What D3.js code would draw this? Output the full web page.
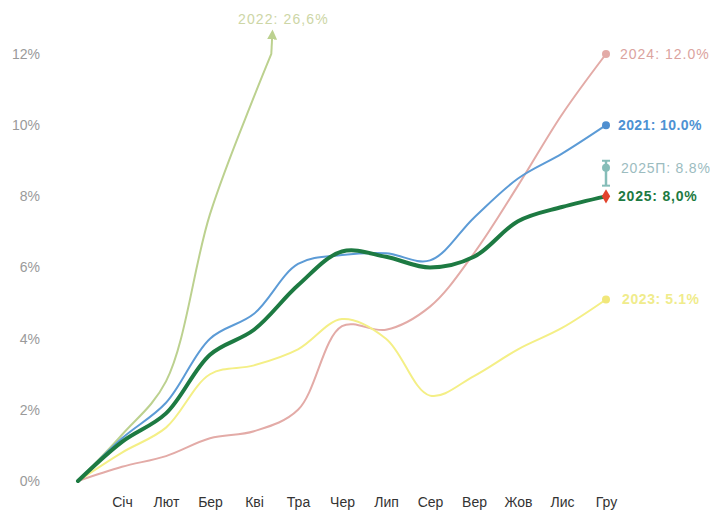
<!DOCTYPE html>
<html>
<head>
<meta charset="utf-8">
<script src="https://cdn.jsdelivr.net/npm/d3@7"></script>
<style>
  html, body { margin: 0; padding: 0; background: #fff; }
  svg { display: block; font-family: "Liberation Sans", Arial, sans-serif; }
</style>
</head>
<body>
<svg id="chart" width="710" height="511"></svg>
<script>
// Cumulative price growth since the start of the year, % (index 0 = start point)
const months = ["", "Січ", "Лют", "Бер", "Кві", "Тра", "Чер", "Лип", "Сер", "Вер", "Жов", "Лис", "Гру"];
const yTicks = [0, 2, 4, 6, 8, 10, 12];

const y2021 = [0, 1.2, 2.2, 4.0, 4.7, 6.1, 6.35, 6.4, 6.2, 7.4, 8.5, 9.2, 10.0];
const y2022 = [0, 1.3, 2.8, 7.5, 10.8, 13.8];          // continues off the scale
const y2022End = 26.6;
const y2023 = [0, 0.8, 1.5, 3.0, 3.25, 3.7, 4.55, 4.0, 2.4, 2.95, 3.7, 4.3, 5.1];
const y2024 = [0, 0.4, 0.7, 1.2, 1.4, 2.0, 4.35, 4.25, 4.9, 6.4, 8.3, 10.3, 12.0];
const y2025 = [0, 1.1, 1.9, 3.55, 4.25, 5.5, 6.45, 6.3, 6.0, 6.3, 7.3, 7.7, 8.0];
const forecast2025 = { value: 8.8, low: 8.3, high: 9.0 };

const svg = d3.select("#chart");
const x = d3.scalePoint().domain(d3.range(months.length)).range([78, 606]);
const y = d3.scaleLinear().domain([0, 12]).range([481, 54]);

// Y axis labels
svg.append("g").attr("transform", "translate(40,0)")
  .call(d3.axisLeft(y).tickValues(yTicks).tickFormat(d => d + "%").tickSize(0).tickPadding(0))
  .call(g => g.select(".domain").remove())
  .call(g => g.selectAll("text").attr("fill", "#9a9a9a").attr("font-size", 14));

// X axis labels
svg.append("g").attr("transform", "translate(0,497)")
  .call(d3.axisBottom(x).tickValues(d3.range(1, 13)).tickFormat(i => months[i]).tickSize(0).tickPadding(0))
  .call(g => g.select(".domain").remove())
  .call(g => g.selectAll("text").attr("fill", "#333").attr("font-size", 14).attr("dy", "0.71em"));

const line = d3.line()
  .x((d, i) => x(i))
  .y(d => y(d))
  .curve(d3.curveCatmullRom.alpha(0.5));

// clip for the line that leaves the scale
svg.append("clipPath").attr("id", "clip")
  .append("rect").attr("x", 0).attr("y", y(12)).attr("width", 710).attr("height", 511);

// 2022
const p22 = svg.append("path").datum(y2022)
  .attr("d", line).attr("fill", "none")
  .attr("stroke", "#bcd18f").attr("stroke-width", 2)
  .attr("clip-path", "url(#clip)");

// find where the 2022 curve leaves the top of the scale
const node = p22.node();
const total = node.getTotalLength();
let lo = 0, hi = total;
for (let k = 0; k < 40; k++) {
  const mid = (lo + hi) / 2;
  if (node.getPointAtLength(mid).y > y(12)) lo = mid; else hi = mid;
}
const exitPt = node.getPointAtLength(lo);

const defs = svg.append("defs");
defs.append("marker").attr("id", "arrow22")
  .attr("viewBox", "0 0 10 10").attr("refX", 5).attr("refY", 5)
  .attr("markerWidth", 5).attr("markerHeight", 5).attr("orient", "auto")
  .append("path").attr("d", "M0,0 L10,5 L0,10 Z").attr("fill", "#bcd18f");
svg.append("line")
  .attr("x1", exitPt.x).attr("y1", exitPt.y)
  .attr("x2", exitPt.x + 1).attr("y2", y(12.55))
  .attr("stroke", "#bcd18f").attr("stroke-width", 2)
  .attr("marker-end", "url(#arrow22)");
svg.append("text").attr("x", 238).attr("y", 24)
  .attr("fill", "#cdd6a6").attr("font-size", 14).attr("letter-spacing", 1.1)
  .text(`2022: ${String(y2022End).replace(".", ",")}%`);

const series = [
  { data: y2024, color: "#e3aba7", width: 2 },
  { data: y2023, color: "#f4ef86", width: 2 },
  { data: y2021, color: "#5c9bd6", width: 2 },
  { data: y2025, color: "#1d7a42", width: 4 }
];
series.forEach(s => {
  svg.append("path").datum(s.data)
    .attr("d", line).attr("fill", "none")
    .attr("stroke", s.color).attr("stroke-width", s.width)
    .attr("stroke-linecap", "round");
});

const last = 12;
// end markers
svg.append("circle").attr("cx", x(last)).attr("cy", y(y2024[last])).attr("r", 4).attr("fill", "#e3aba7");
svg.append("circle").attr("cx", x(last)).attr("cy", y(y2021[last])).attr("r", 4).attr("fill", "#4f8fd0");
svg.append("circle").attr("cx", x(last)).attr("cy", y(y2023[last])).attr("r", 4).attr("fill", "#f1e77a");

// forecast with range
const fx = x(last);
svg.append("line").attr("x1", fx).attr("x2", fx)
  .attr("y1", y(forecast2025.high)).attr("y2", y(forecast2025.low))
  .attr("stroke", "#86bdb8").attr("stroke-width", 2.5);
[forecast2025.high, forecast2025.low].forEach(v => {
  svg.append("line").attr("x1", fx - 4).attr("x2", fx + 4)
    .attr("y1", y(v)).attr("y2", y(v))
    .attr("stroke", "#86bdb8").attr("stroke-width", 2);
});
svg.append("circle").attr("cx", fx).attr("cy", y(forecast2025.value)).attr("r", 4).attr("fill", "#86bdb8");

svg.append("path")
  .attr("d", d3.symbol(d3.symbolDiamond, 60)())
  .attr("transform", `translate(${x(last)},${y(y2025[last])})`)
  .attr("fill", "#e2432c");

const fmtDot = v => v.toFixed(1) + "%";
const fmtComma = v => v.toFixed(1).replace(".", ",") + "%";
const labels = [
  { v: y2024[last], text: "2024: " + fmtDot(y2024[last]), color: "#dba39e", weight: "normal", ls: 1.0, dx: 620 },
  { v: y2021[last], text: "2021: " + fmtDot(y2021[last]), color: "#4d92d3", weight: "bold", ls: 0.4, dx: 618 },
  { v: forecast2025.value, text: "2025П: " + fmtDot(forecast2025.value), color: "#9cbcbf", weight: "normal", ls: 0.8, dx: 621 },
  { v: y2025[last], text: "2025: " + fmtComma(y2025[last]), color: "#1d7a42", weight: "bold", ls: 0.8, dx: 618 },
  { v: y2023[last], text: "2023: " + fmtDot(y2023[last]), color: "#f0ec8c", weight: "bold", ls: 0.6, dx: 622 }
];
labels.forEach(l => {
  svg.append("text").attr("x", l.dx).attr("y", y(l.v)).attr("dy", "0.35em")
    .attr("fill", l.color).attr("font-size", 14).attr("font-weight", l.weight)
    .attr("letter-spacing", l.ls).text(l.text);
});
</script>
</body>
</html>
